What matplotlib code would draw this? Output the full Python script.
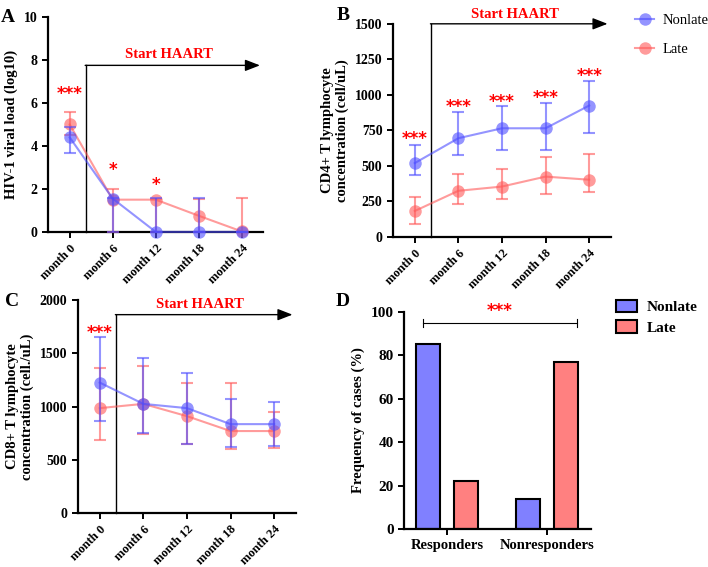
import matplotlib
matplotlib.use("Agg")
import matplotlib.pyplot as plt
from matplotlib.lines import Line2D
import numpy as np

plt.rcParams['font.family'] = ['Liberation Serif', 'DejaVu Serif']

months = ["month 0", "month 6", "month 12", "month 18", "month 24"]

# Panel A: HIV-1 viral load (log10)
a_non = [4.4, 1.55, 0.0, 0.0, 0.0]
a_non_lo = [3.67, 0.0, 0.0, 0.0, 0.0]
a_non_hi = [4.9, 1.6, 1.6, 1.6, 0.0]
a_late = [5.0, 1.5, 1.5, 0.75, 0.02]
a_late_lo = [4.5, 0.0, 0.0, 0.0, 0.0]
a_late_hi = [5.58, 2.0, 1.55, 1.55, 1.6]
a_stars = ["***", "*", "*", "", ""]
a_star_y = [6.4, 2.9, 2.2, 0, 0]

# Panel B: CD4+ T
b_non = [520, 695, 765, 765, 925]
b_non_lo = [435, 580, 610, 612, 730]
b_non_hi = [650, 880, 925, 940, 1095]
b_late = [183, 325, 355, 425, 403]
b_late_lo = [90, 235, 265, 305, 320]
b_late_hi = [280, 440, 475, 560, 585]
b_stars = ["***", "***", "***", "***", "***"]
b_star_y = [690, 915, 950, 980, 1135]

# Panel C: CD8+ T
c_non = [1225, 1025, 985, 835, 835]
c_non_lo = [860, 755, 650, 620, 630]
c_non_hi = [1650, 1455, 1315, 1075, 1045]
c_late = [985, 1025, 910, 770, 770]
c_late_lo = [690, 740, 645, 600, 610]
c_late_hi = [1360, 1380, 1225, 1225, 950]
c_stars = ["***", "", "", "", ""]
c_star_y = [1690, 0, 0, 0, 0]

# Panel D
d_groups = ["Responders", "Nonresponders"]
d_non = [85, 14]
d_late = [22, 77]

BLUE = (0.30, 0.30, 1.0)
RED = (1.0, 0.35, 0.35)

fig = plt.figure(figsize=(7.08, 5.67), dpi=100)

def style_axes(ax, ysize=10, xsize=9):
    for s in ["top", "right"]:
        ax.spines[s].set_visible(False)
    for s in ["left", "bottom"]:
        ax.spines[s].set_linewidth(1.6)
    ax.tick_params(axis='both', width=1.4, length=4)
    ax.tick_params(axis='y', labelsize=ysize)
    ax.tick_params(axis='x', labelsize=xsize)
    for lab in ax.get_yticklabels() + ax.get_xticklabels():
        lab.set_fontweight('bold')

def line_panel(ax, non, nlo, nhi, late, llo, lhi, stars, star_y, ylim, yticks, ylabel, arrow_y, text_y):
    x = np.arange(len(months))
    for vals, lo, hi, col in [(late, llo, lhi, RED), (non, nlo, nhi, BLUE)]:
        v = np.array(vals, float)
        err = [v - np.array(lo, float), np.array(hi, float) - v]
        ax.errorbar(x, v, yerr=err, fmt='none', ecolor=col, alpha=0.6, elinewidth=1.5,
                    capsize=4.5, capthick=1.5, clip_on=False, zorder=3)
        ax.plot(x, v, color=col, alpha=0.6, lw=1.5, marker='o', markersize=9,
                markeredgewidth=0, clip_on=False, zorder=3)
    for xi, s, sy in zip(x, stars, star_y):
        if s:
            ax.text(xi, sy, s, color='red', fontsize=12, fontweight='bold',
                    ha='center', va='center', family='DejaVu Sans')
    ax.set_xlim(-0.5, 4.5)
    ax.set_ylim(*ylim)
    ax.set_yticks(yticks)
    ax.set_xticks(x)
    ax.set_xticklabels(months, rotation=45, ha='right', rotation_mode='anchor')
    ax.set_ylabel(ylabel, fontsize=10.5, fontweight='bold')
    # HAART arrow
    ax.plot([0.37, 0.37], [ylim[0], arrow_y], color='black', lw=1.0, clip_on=False, zorder=2)
    ax.annotate("", xy=(4.42, arrow_y), xytext=(0.36, arrow_y),
                arrowprops=dict(arrowstyle='-|>,head_length=0.9,head_width=0.35',
                                color='black', lw=1.0, shrinkA=0, shrinkB=0),
                annotation_clip=False)
    ax.text(2.3, text_y, "Start HAART", color='red', fontsize=10.5,
            fontweight='bold', ha='center', va='center')
    style_axes(ax)

# A
axA = fig.add_axes([0.068, 0.591, 0.304, 0.379])
line_panel(axA, a_non, a_non_lo, a_non_hi, a_late, a_late_lo, a_late_hi,
           a_stars, a_star_y, (0, 10), [0, 2, 4, 6, 8, 10],
           "HIV-1 viral load (log10)", 7.75, 8.25)

# B
axB = fig.add_axes([0.555, 0.582, 0.308, 0.376])
line_panel(axB, b_non, b_non_lo, b_non_hi, b_late, b_late_lo, b_late_hi,
           b_stars, b_star_y, (0, 1500), [0, 250, 500, 750, 1000, 1250, 1500],
           "CD4+ T lymphocyte\nconcentration (cell/uL)", 1500, 1565)
handles = [Line2D([], [], color=BLUE, alpha=0.6, lw=1.5, marker='o', markersize=9, markeredgewidth=0),
           Line2D([], [], color=RED, alpha=0.6, lw=1.5, marker='o', markersize=9, markeredgewidth=0)]
axB.legend(handles, ["Nonlate", "Late"], loc='upper left', bbox_to_anchor=(1.05, 1.11),
           frameon=False, fontsize=10.5, handlelength=1.3, handletextpad=0.6, labelspacing=1.1)

# C
axC = fig.add_axes([0.110, 0.095, 0.308, 0.376])
line_panel(axC, c_non, c_non_lo, c_non_hi, c_late, c_late_lo, c_late_hi,
           c_stars, c_star_y, (0, 2000), [0, 500, 1000, 1500, 2000],
           "CD8+ T lymphocyte\nconcentration (cell./uL)", 1862, 1955)

# D
axD = fig.add_axes([0.5706, 0.067, 0.264, 0.383])
xd = np.arange(len(d_groups))
axD.bar(xd - 0.19, d_non, width=0.24, color=(0.5, 0.5, 1.0), edgecolor='black', lw=1.5, label='Nonlate')
axD.bar(xd + 0.19, d_late, width=0.24, color=(1.0, 0.5, 0.5), edgecolor='black', lw=1.5, label='Late')
axD.set_xlim(-0.43, 1.44)
axD.set_ylim(0, 100)
axD.set_yticks([0, 20, 40, 60, 80, 100])
axD.set_xticks(xd)
axD.set_xticklabels(d_groups)
axD.set_ylabel("Frequency of cases (%)", fontsize=10.5, fontweight='bold')
axD.plot([-0.24, 1.3], [94.8, 94.8], color='black', lw=0.8)
axD.plot([-0.24, -0.24], [93, 96.6], color='black', lw=0.8)
axD.plot([1.3, 1.3], [93, 96.6], color='black', lw=0.8)
axD.text(0.53, 100.5, "***", color='red', fontsize=12, fontweight='bold',
         ha='center', va='center', family='DejaVu Sans')
style_axes(axD, ysize=11, xsize=10.5)
axD.legend(loc='upper left', bbox_to_anchor=(1.06, 1.12), frameon=False,
           prop={'weight': 'bold', 'size': 11}, handlelength=1.4, handleheight=0.9,
           handletextpad=0.6, labelspacing=0.4)

# Panel letters
for lab, x, y in [("A", 8, 18), ("B", 343, 15), ("C", 12, 302), ("D", 343, 302)]:
    fig.text(x / 708, 1 - y / 567, lab, fontsize=14, fontweight='bold', ha='center', va='center')

fig.savefig("out.png", dpi=100)
